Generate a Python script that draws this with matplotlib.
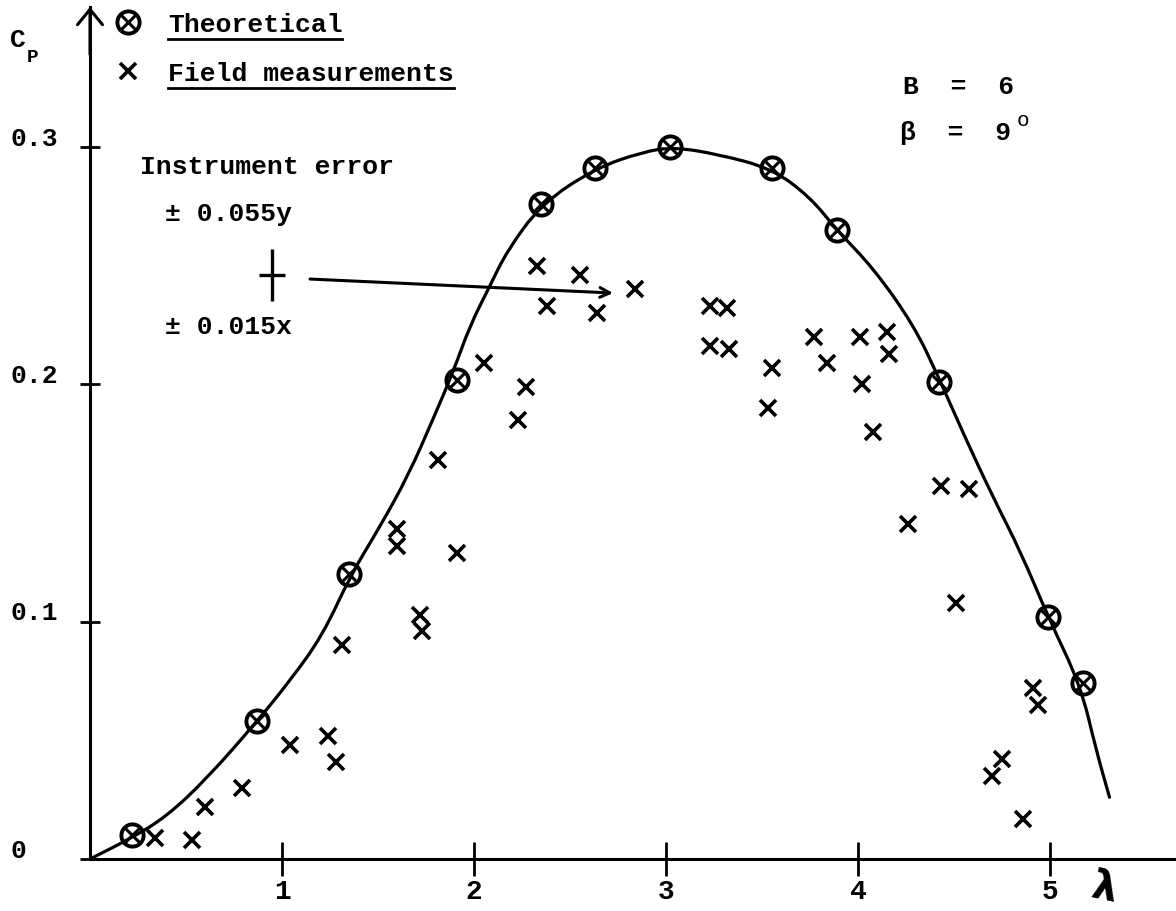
import matplotlib
matplotlib.use("Agg")
import matplotlib.pyplot as plt
from matplotlib.lines import Line2D
from matplotlib.path import Path
from matplotlib.patches import PathPatch
from matplotlib.font_manager import FontProperties

# ---- data -------------------------------------------------------------
# theoretical power coefficient (circled points)
theory_lambda = [0.22, 0.87, 1.35, 1.91, 2.35, 2.63, 3.02, 3.55, 3.89, 4.42, 4.99, 5.17]
theory_cp = [0.010, 0.058, 0.120, 0.202, 0.276, 0.291, 0.300, 0.291, 0.265, 0.201, 0.102, 0.074]

# hand-faired theoretical curve
curve_lambda = [0.00, 0.22, 0.40, 0.61, 0.87, 1.04, 1.21, 1.36, 1.51, 1.66, 1.79,
                1.89, 1.98, 2.08, 2.17, 2.35, 2.63, 2.88, 3.04, 3.27, 3.55, 3.75,
                3.89, 4.08, 4.29, 4.42, 4.55, 4.70, 4.85, 4.99, 5.16, 5.24, 5.31]
curve_cp = [0.000, 0.009, 0.018, 0.034, 0.058, 0.075, 0.094, 0.120, 0.140, 0.162, 0.186,
            0.205, 0.225, 0.241, 0.256, 0.276, 0.291, 0.298, 0.300, 0.297, 0.291, 0.279,
            0.265, 0.249, 0.225, 0.203, 0.179, 0.153, 0.129, 0.102, 0.073, 0.046, 0.026]

# field measurements (crosses)
field_lambda = [0.34, 0.53, 0.60, 0.79, 1.04, 1.24, 1.28, 1.31, 1.60, 1.60, 1.72, 1.73,
                1.91, 1.81, 2.05, 2.27, 2.23, 2.33, 2.55, 2.84, 2.38, 2.64,
                3.23, 3.32, 3.23, 3.33, 3.55, 3.53, 3.77, 3.84, 4.01, 4.15, 4.16,
                4.02, 4.08, 4.43, 4.58, 4.26, 4.51, 4.91, 4.94, 4.75, 4.70, 4.86]
field_cp = [0.009, 0.008, 0.022, 0.030, 0.048, 0.052, 0.041, 0.090, 0.139, 0.132, 0.103, 0.096,
            0.129, 0.168, 0.209, 0.199, 0.185, 0.250, 0.246, 0.240, 0.233, 0.230,
            0.233, 0.232, 0.216, 0.215, 0.207, 0.190, 0.220, 0.209, 0.220, 0.222, 0.213,
            0.200, 0.180, 0.157, 0.156, 0.141, 0.108, 0.072, 0.065, 0.042, 0.035, 0.017]

x_ticks = [1, 2, 3, 4, 5]
x_tick_labels = ["1", "2", "3", "4", "5"]
y_ticks = [0.0, 0.1, 0.2, 0.3]
y_tick_labels = ["0", "0.1", "0.2", "0.3"]

# instrument error cross and the arrow pointing at the measurements
err_center = (0.948, 0.246)
err_half = (0.07, 0.011)
arrow_from = (1.146, 0.2444)
arrow_to = (2.724, 0.2385)

# ---- figure -----------------------------------------------------------
W, H = 1176, 912
PX_PER_X = 192.0     # pixels per unit of tip speed ratio
PX_PER_Y = 2373.0    # pixels per unit of Cp
X0, Y0 = 90, 860     # pixel position of the origin

FONT = ["Liberation Mono", "DejaVu Sans Mono"]
plt.rcParams["font.family"] = FONT
plt.rcParams["font.weight"] = "bold"

fig = plt.figure(figsize=(W / 100, H / 100), dpi=100, facecolor="white")
ax = fig.add_axes([X0 / W, (H - Y0) / H, (W - X0) / W, Y0 / H])
ax.set_xlim(0, (W - X0) / PX_PER_X)
ax.set_ylim(0, Y0 / PX_PER_Y)
ax.set_facecolor("white")

for side in ("top", "right"):
    ax.spines[side].set_visible(False)
y_top = (Y0 - 8) / PX_PER_Y
ax.spines["left"].set_bounds(0, y_top)
ax.spines["left"].set_linewidth(2.2)
ax.spines["bottom"].set_linewidth(2.2)

# arrow head on the Cp axis
ax.annotate("", xy=(0, y_top), xytext=(0, y_top - 0.02),
            arrowprops=dict(arrowstyle="->,head_length=0.55,head_width=0.45",
                            lw=2.2, color="black", shrinkA=0, shrinkB=0,
                            mutation_scale=20),
            annotation_clip=False)

ax.set_xticks(x_ticks, x_tick_labels)
ax.tick_params(axis="x", direction="inout", length=24, width=2, pad=2,
               labelsize=20)
ax.set_yticks(y_ticks, [""] * len(y_ticks))
ax.tick_params(axis="y", direction="inout", length=15, width=2)
for lab in ax.get_xticklabels():
    lab.set_fontweight("bold")

# y tick labels, left-aligned at the page margin
ytf = ax.get_yaxis_transform()
for v, s in zip(y_ticks, y_tick_labels):
    ax.text((10 - X0) / (W - X0), v + 0.004, s, transform=ytf, ha="left",
            va="center", fontsize=19, fontweight="bold", clip_on=False)

# smooth faired curve: quadratic Bezier segments through the curve points
pts = list(zip(curve_lambda, curve_cp))
verts = [pts[0]]
codes = [Path.MOVETO]
verts += [((pts[0][0] + pts[1][0]) / 2, (pts[0][1] + pts[1][1]) / 2)]
codes += [Path.LINETO]
for i in range(1, len(pts) - 1):
    mid = ((pts[i][0] + pts[i + 1][0]) / 2, (pts[i][1] + pts[i + 1][1]) / 2)
    verts += [pts[i], mid]
    codes += [Path.CURVE3, Path.CURVE3]
verts.append(pts[-1])
codes.append(Path.LINETO)
ax.add_patch(PathPatch(Path(verts, codes), facecolor="none", edgecolor="black",
                       lw=2.3, capstyle="round", joinstyle="round", clip_on=False))

h_circ = ax.plot(theory_lambda, theory_cp, ls="none", marker="o", ms=16,
                 mfc="none", mec="black", mew=2.8, clip_on=False)[0]
h_circx = ax.plot(theory_lambda, theory_cp, ls="none", marker="x", ms=10,
                  mec="black", mew=2.2, clip_on=False)[0]
h_field = ax.plot(field_lambda, field_cp, ls="none", marker="x", ms=12,
                  mec="black", mew=2.6, clip_on=False)[0]

# instrument error cross and arrow
ax.errorbar([err_center[0]], [err_center[1]], xerr=[err_half[0]], yerr=[err_half[1]],
            fmt="none", ecolor="black", elinewidth=2.4, capsize=0)
ax.annotate("", xy=arrow_to, xytext=arrow_from,
            arrowprops=dict(arrowstyle="->,head_length=0.7,head_width=0.35",
                            lw=2.2, color="black", shrinkA=0, shrinkB=0))

# legend
fp = FontProperties(family=FONT, weight="bold", size=19)
leg = ax.legend([(h_circ, h_circx), h_field], ["Theoretical", "Field measurements"],
                loc="upper left", bbox_to_anchor=(115 / W, 1 - 13 / H),
                bbox_transform=fig.transFigure, frameon=False, prop=fp,
                handlelength=1.0, handletextpad=1.0, labelspacing=0.95,
                borderpad=0, borderaxespad=0, numpoints=1)


def fx(px):
    return px / W


def fy(py):
    return 1 - py / H


# annotations
fig.text(fx(140), fy(167), "Instrument error", fontsize=19, fontweight="bold",
         ha="left", va="center")
fig.text(fx(165), fy(214), "\u00b1 0.055y", fontsize=19, fontweight="bold",
         ha="left", va="center")
fig.text(fx(165), fy(327), "\u00b1 0.015x", fontsize=19, fontweight="bold",
         ha="left", va="center")

fig.text(fx(903), fy(87), "B  =  6", fontsize=19, fontweight="bold",
         ha="left", va="center")
fig.text(fx(900), fy(133), "\u03b2  =  9", fontsize=19, fontweight="bold",
         ha="left", va="center")
fig.text(fx(1017), fy(120), "o", fontsize=15, fontweight="normal",
         ha="left", va="center")

fig.text(fx(10), fy(40), "C", fontsize=19, fontweight="bold", ha="left", va="center")
fig.text(fx(27), fy(57), "P", fontsize=14, fontweight="bold", ha="left", va="center")

fig.text(fx(1105), fy(889), "\u03bb", fontsize=29, fontweight="bold",
         family=["DejaVu Sans"], ha="center", va="center", rotation=-12)

# underline legend labels
fig.canvas.draw()
renderer = fig.canvas.get_renderer()
for t in leg.get_texts():
    bb = t.get_window_extent(renderer)
    y_line = bb.y0 - 3
    fig.add_artist(Line2D([bb.x0 / W, bb.x1 / W], [y_line / H, y_line / H],
                          color="black", lw=2.0, transform=fig.transFigure))

fig.savefig("out.png", dpi=100, facecolor="white")
